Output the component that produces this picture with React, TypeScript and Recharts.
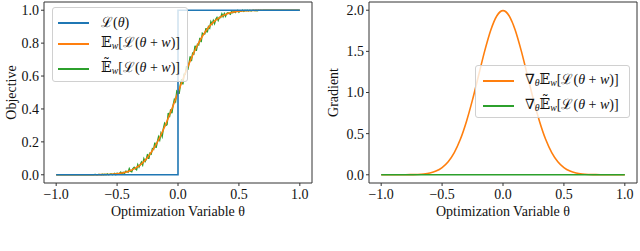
import React from 'react';
import { LineChart, Line, XAxis, YAxis, ReferenceArea } from 'recharts';

const BLUE = '#1f77b4';
const ORANGE = '#ff7f0e';
const GREEN = '#2ca02c';
const SERIF = '"Liberation Serif", "DejaVu Serif", serif';

// x grid of the smooth curves
const smoothX = [
  -1, -0.95, -0.9, -0.85, -0.8, -0.75, -0.7, -0.65, -0.6, -0.55, -0.5, -0.45, -0.4, -0.35, -0.3, -0.25, -0.2, -0.15,
  -0.1, -0.05, 0, 0.05, 0.1, 0.15, 0.2, 0.25, 0.3, 0.35, 0.4, 0.45, 0.5, 0.55, 0.6, 0.65, 0.7, 0.75, 0.8, 0.85, 0.9,
  0.95, 1,
];
const smoothObjective = [
  0, 0, 0, 0, 0, 0.0001, 0.0002, 0.0006, 0.0013, 0.003, 0.0062, 0.0122, 0.0228, 0.0401, 0.0668, 0.1056, 0.1587, 0.2266,
  0.3085, 0.4013, 0.5, 0.5987, 0.6915, 0.7734, 0.8413, 0.8944, 0.9332, 0.9599, 0.9772, 0.9878, 0.9938, 0.997, 0.9987,
  0.9994, 0.9998, 0.9999, 1, 1, 1, 1, 1,
];
const smoothGradient = [
  0, 0, 0, 0, 0.001, 0.002, 0.004, 0.01, 0.022, 0.045, 0.088, 0.159, 0.27, 0.431, 0.648, 0.913, 1.21, 1.506, 1.76, 1.933,
  1.995, 1.933, 1.76, 1.506, 1.21, 0.913, 0.648, 0.431, 0.27, 0.159, 0.088, 0.045, 0.022, 0.01, 0.004, 0.002, 0.001, 0, 0,
  0, 0,
];

// step function
const stepX = [-1, 0, 0, 1];
const stepObjective = [0, 0, 1, 1];

// sampled (noisy) estimate
const noisyX = [
  -1, -0.7, -0.69, -0.68, -0.67, -0.66, -0.65, -0.64, -0.63, -0.62, -0.61, -0.6, -0.59, -0.58, -0.57, -0.56, -0.55,
  -0.54, -0.53, -0.52, -0.51, -0.5, -0.49, -0.48, -0.47, -0.46, -0.45, -0.44, -0.43, -0.42, -0.41, -0.4, -0.39, -0.38,
  -0.37, -0.36, -0.35, -0.34, -0.33, -0.32, -0.31, -0.3, -0.29, -0.28, -0.27, -0.26, -0.25, -0.24, -0.23, -0.22, -0.21,
  -0.2, -0.19, -0.18, -0.17, -0.16, -0.15, -0.14, -0.13, -0.12, -0.11, -0.1, -0.09, -0.08, -0.07, -0.06, -0.05, -0.04,
  -0.03, -0.02, -0.01, 0, 0.01, 0.02, 0.03, 0.04, 0.05, 0.06, 0.07, 0.08, 0.09, 0.1, 0.11, 0.12, 0.13, 0.14, 0.15, 0.16,
  0.17, 0.18, 0.19, 0.2, 0.21, 0.22, 0.23, 0.24, 0.25, 0.26, 0.27, 0.28, 0.29, 0.3, 0.31, 0.32, 0.33, 0.34, 0.35, 0.36,
  0.37, 0.38, 0.39, 0.4, 0.41, 0.42, 0.43, 0.44, 0.45, 0.46, 0.47, 0.48, 0.49, 0.5, 0.51, 0.52, 0.53, 0.54, 0.55, 0.56,
  0.57, 0.58, 0.59, 0.6, 0.61, 0.62, 0.63, 0.64, 0.65, 0.66, 0.67, 0.68, 0.69, 0.7, 1,
];
const noisyObjective = [
  0, 0.001, 0, 0.002, 0, 0, 0.002, 0.001, 0, 0.003, 0, 0.003, 0, 0.005, 0, 0.003, 0.006, 0.001, 0.004, 0.008, 0.001,
  0.01, 0.004, 0.008, 0.016, 0.005, 0.015, 0.007, 0.021, 0.02, 0.016, 0.037, 0.021, 0.018, 0.038, 0.046, 0.037, 0.031,
  0.062, 0.046, 0.062, 0.077, 0.06, 0.097, 0.081, 0.095, 0.126, 0.097, 0.131, 0.126, 0.159, 0.154, 0.195, 0.163, 0.198,
  0.23, 0.211, 0.252, 0.232, 0.28, 0.312, 0.3, 0.305, 0.375, 0.351, 0.397, 0.374, 0.424, 0.458, 0.445, 0.507, 0.497,
  0.496, 0.549, 0.581, 0.549, 0.611, 0.612, 0.661, 0.637, 0.674, 0.719, 0.691, 0.739, 0.734, 0.784, 0.753, 0.793, 0.789,
  0.832, 0.806, 0.86, 0.855, 0.856, 0.891, 0.865, 0.9, 0.891, 0.93, 0.915, 0.937, 0.919, 0.945, 0.956, 0.938, 0.957,
  0.956, 0.978, 0.961, 0.98, 0.963, 0.98, 0.985, 0.981, 0.976, 0.993, 0.985, 0.992, 0.986, 0.996, 0.999, 0.988, 0.995,
  0.994, 1, 0.993, 0.999, 0.997, 1, 0.996, 1, 0.996, 0.999, 1, 0.998, 1, 0.997, 1, 0.999, 1, 0.999, 1, 1,
];
const noisyGradientX = [-1, 1];
const noisyGradient = [0, 0];

const xTicks = [-1, -0.5, 0, 0.5, 1];
const objectiveTicks = [0, 0.2, 0.4, 0.6, 0.8, 1];
const gradientTicks = [0, 0.5, 1, 1.5, 2];

const toPoints = (xs: number[], ys: number[]) => xs.map((x, i) => ({ x, y: ys[i] }));
const fmt = (v: number) => v.toFixed(1).replace('-', '\u2212');

const tickStyle = { fontFamily: SERIF, fontSize: 14, fill: '#111' };
const labelStyle = { fontFamily: SERIF, fontSize: 14, fill: '#111' };

const Sub = ({ children }: { children: React.ReactNode }) => (
  <sub style={{ fontSize: '0.7em', verticalAlign: '-0.25em', fontStyle: 'italic', lineHeight: 1 }}>{children}</sub>
);
const Inner = () => (
  <>
    [ℒ(<i>θ</i> + <i>w</i>)]
  </>
);

const leftItems = [
  { color: BLUE, top: 15, label: <>ℒ(<i>θ</i>)</> },
  { color: ORANGE, top: 36, label: <>𝔼<Sub>w</Sub><Inner /></> },
  { color: GREEN, top: 61, label: <>{'𝔼\u0303'}<Sub>w</Sub><Inner /></> },
];
const rightItems = [
  { color: ORANGE, top: 15, label: <>∇<Sub>θ</Sub>𝔼<Sub>w</Sub><Inner /></> },
  { color: GREEN, top: 40, label: <>∇<Sub>θ</Sub>{'𝔼\u0303'}<Sub>w</Sub><Inner /></> },
];

const LegendBox = ({ items, left, top, width, height, pad, gap }: any) => (
  <div
    style={{
      position: 'absolute',
      left,
      top,
      width,
      height,
      boxSizing: 'border-box',
      background: 'rgba(255,255,255,0.8)',
      border: '1px solid #d0d0d0',
      borderRadius: 3,
      fontFamily: SERIF,
      fontSize: 14,
      color: '#111',
    }}
  >
    {items.map((it: any, i: number) => (
      <div
        key={i}
        style={{ position: 'absolute', left: pad, top: it.top - 10, height: 20, display: 'flex', alignItems: 'center', whiteSpace: 'nowrap', lineHeight: 1 }}
      >
        <div style={{ width: 31, height: 2, background: it.color, marginRight: gap }} />
        <span>{it.label}</span>
      </div>
    ))}
  </div>
);

const axisCommon = {
  type: 'number' as const,
  dataKey: 'x',
  allowDataOverflow: true,
  axisLine: false,
  tickSize: 3,
  tick: tickStyle,
  tickLine: { stroke: '#333' },
  tickFormatter: fmt,
};

export default function App() {
  return (
    <div style={{ position: 'absolute', left: 0, top: 0, width: 640, height: 251, background: '#fff' }}>
      <div style={{ position: 'absolute', left: 0, top: 0 }}>
        <LineChart width={320} height={251} margin={{ top: 2, right: 8, bottom: 35, left: 0 }}>
          <XAxis
            {...axisCommon}
            domain={[-1.1, 1.1]}
            ticks={xTicks}
            tickMargin={3}
            height={33}
            label={{ value: 'Optimization Variable θ', position: 'insideBottom', offset: 0, style: labelStyle }}
          />
          <YAxis
            {...axisCommon}
            dataKey="y"
            domain={[-0.05, 1.05]}
            ticks={objectiveTicks}
            tickMargin={2}
            width={44}
            label={{ value: 'Objective', angle: -90, position: 'insideLeft', offset: 11, textAnchor: 'middle', style: labelStyle }}
          />
          <Line data={toPoints(noisyX, noisyObjective)} dataKey="y" stroke={GREEN} strokeWidth={1.4} dot={false} isAnimationActive={false} />
          <Line data={toPoints(smoothX, smoothObjective)} dataKey="y" type="monotone" stroke={ORANGE} strokeWidth={1.6} dot={false} isAnimationActive={false} />
          <Line data={toPoints(stepX, stepObjective)} dataKey="y" stroke={BLUE} strokeWidth={1.6} dot={false} isAnimationActive={false} />
          <ReferenceArea x1={-1.1} x2={1.1} y1={-0.05} y2={1.05} fill="none" stroke="#333" strokeWidth={1} ifOverflow="visible" />
        </LineChart>
        <LegendBox items={leftItems} left={52} top={7} width={136} height={75} pad={5} gap={12} />
      </div>
      <div style={{ position: 'absolute', left: 320, top: 0 }}>
        <LineChart width={320} height={251} margin={{ top: 2, right: 3, bottom: 35, left: 0 }}>
          <XAxis
            {...axisCommon}
            domain={[-1.1, 1.1]}
            ticks={xTicks}
            tickMargin={3}
            height={33}
            label={{ value: 'Optimization Variable θ', position: 'insideBottom', offset: 0, style: labelStyle }}
          />
          <YAxis
            {...axisCommon}
            dataKey="y"
            domain={[-0.1, 2.1]}
            ticks={gradientTicks}
            tickMargin={2}
            width={49}
            label={{ value: 'Gradient', angle: -90, position: 'insideLeft', offset: 13, textAnchor: 'middle', style: labelStyle }}
          />
          <Line data={toPoints(smoothX, smoothGradient)} dataKey="y" type="monotone" stroke={ORANGE} strokeWidth={1.6} dot={false} isAnimationActive={false} />
          <Line data={toPoints(noisyGradientX, noisyGradient)} dataKey="y" stroke={GREEN} strokeWidth={1.6} dot={false} isAnimationActive={false} />
          <ReferenceArea x1={-1.1} x2={1.1} y1={-0.1} y2={2.1} fill="none" stroke="#333" strokeWidth={1} ifOverflow="visible" />
        </LineChart>
        <LegendBox items={rightItems} left={155} top={65} width={155} height={53} pad={7} gap={11} />
      </div>
    </div>
  );
}
